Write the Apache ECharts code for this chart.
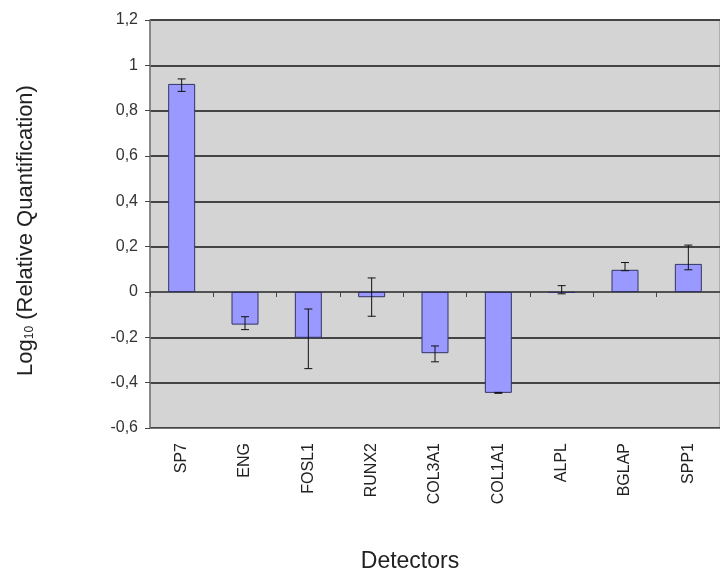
<!DOCTYPE html>
<html>
<head>
<meta charset="utf-8">
<script src="https://cdn.jsdelivr.net/npm/echarts@6/dist/echarts.min.js"></script>
<style>
  html, body { margin: 0; padding: 0; background: #fff; }
  #chart { width: 720px; height: 574px; }
</style>
</head>
<body>
<div id="chart"></div>
<script>
const detectors = ['SP7', 'ENG', 'FOSL1', 'RUNX2', 'COL3A1', 'COL1A1', 'ALPL', 'BGLAP', 'SPP1']
const values = [0.918, -0.144, -0.202, -0.023, -0.27, -0.445, -0.004, 0.098, 0.124]
// error bar ends (lower, upper)
const errLower = [0.885, -0.166, -0.338, -0.107, -0.308, -0.447, -0.008, 0.094, 0.098]
const errUpper = [0.94, -0.109, -0.075, 0.062, -0.238, -0.443, 0.028, 0.13, 0.207]

const font = 'Liberation Sans, Arial, sans-serif'
const chart = echarts.init(document.getElementById('chart'))

const errData = detectors.map((d, i) => [i, errLower[i], errUpper[i]])

chart.setOption({
  animation: false,
  grid: {
    left: 150, top: 20, width: 579, height: 408,
    show: true, backgroundColor: '#d4d4d4', borderColor: '#888', borderWidth: 1
  },
  xAxis: [{
    type: 'category',
    data: detectors,
    position: 'bottom',
    axisLine: { onZero: false, lineStyle: { color: '#777', width: 1 } },
    axisTick: { show: false },
    axisLabel: { rotate: 90, margin: 15, color: '#222', fontSize: 16, fontFamily: font }
  }, {
    type: 'category',
    data: detectors,
    position: 'bottom',
    axisLine: { onZero: true, lineStyle: { color: '#555', width: 1.5 } },
    axisTick: { show: true, length: 5, lineStyle: { color: '#444' } },
    axisLabel: { show: false }
  }],
  yAxis: {
    type: 'value',
    min: -0.6, max: 1.2, interval: 0.2,
    axisLine: { show: true, lineStyle: { color: '#777', width: 1.5 } },
    axisTick: { show: true, length: 5, lineStyle: { color: '#444' } },
    axisLabel: {
      color: '#333', fontSize: 16, margin: 12, fontFamily: font,
      formatter: v => String(Math.round(v * 10) / 10).replace('.', ',')
    },
    splitLine: { lineStyle: { color: '#444', width: 2 } }
  },
  graphic: [{
    type: 'text',
    x: 410, y: 562,
    style: {
      text: 'Detectors', fontSize: 23, fill: '#222', fontFamily: font,
      align: 'center', verticalAlign: 'middle'
    }
  }, {
    type: 'text',
    x: 26, y: 376,
    rotation: Math.PI / 2,
    style: {
      text: '{a|Log}{s|10}{a| (Relative Quantification)}',
      align: 'left', verticalAlign: 'middle',
      rich: {
        a: { fontSize: 22, fill: '#222', fontFamily: font },
        s: { fontSize: 12, fill: '#222', fontFamily: font, padding: [8, 0, 0, 0] }
      }
    }
  }],
  series: [{
    type: 'bar',
    data: values,
    barWidth: 27,
    itemStyle: { color: '#9999ff', borderColor: '#333366', borderWidth: 1 }
  }, {
    type: 'custom',
    data: errData,
    z: 10,
    renderItem: (params, api) => {
      const x = api.coord([api.value(0), api.value(1)])[0]
      const lo = api.coord([api.value(0), api.value(1)])[1]
      const hi = api.coord([api.value(0), api.value(2)])[1]
      const cap = 4
      const style = { stroke: '#111', lineWidth: 1 }
      return {
        type: 'group',
        children: [
          { type: 'line', shape: { x1: x, y1: lo, x2: x, y2: hi }, style },
          { type: 'line', shape: { x1: x - cap, y1: lo, x2: x + cap, y2: lo }, style },
          { type: 'line', shape: { x1: x - cap, y1: hi, x2: x + cap, y2: hi }, style }
        ]
      }
    }
  }]
})
</script>
</body>
</html>
